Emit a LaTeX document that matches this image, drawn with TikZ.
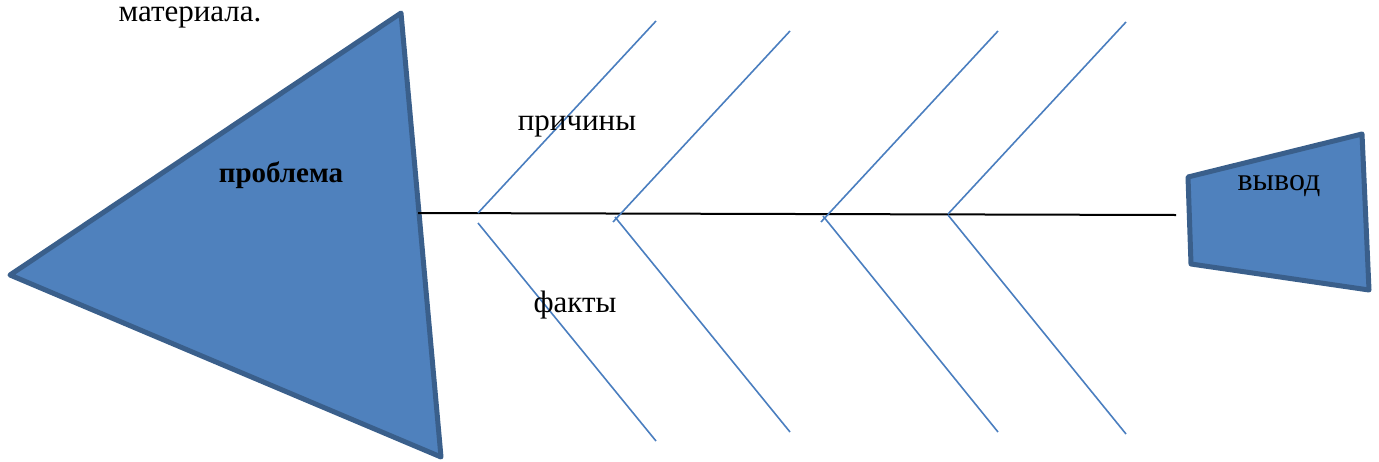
\documentclass[tikz,border=0pt]{standalone}
\usepackage{fontspec}
\setmainfont{Liberation Serif}
\definecolor{shapefill}{HTML}{4F81BD}
\definecolor{shapeline}{HTML}{3A5F8B}
\definecolor{bonecol}{HTML}{4A7EBF}
\tikzset{
  fishpart/.style={fill=shapefill, draw=shapeline, line width=5pt, line join=round},
  bone/.style={draw=bonecol, line width=1.6pt},
  spine/.style={draw=black, line width=2pt},
  lbl/.style={anchor=base, inner sep=0pt, font=\fontsize{31}{36}\selectfont}
}
\begin{document}
\begin{tikzpicture}[x=1pt,y=-1pt]
\useasboundingbox (0,0) rectangle (1379,461);
% head
\draw[fishpart] (401,13) coordinate (h1) -- (10,275) coordinate (h2) -- (441,457) coordinate (h3) -- cycle;
% tail
\draw[fishpart] (1188,177) coordinate (t1) -- (1362,134) coordinate (t2) -- (1369,290) coordinate (t3) -- (1191,264) coordinate (t4) -- cycle;
% spine
\coordinate (s0) at (418,213);
\coordinate (s1) at (1176,215);
\draw[spine] (s0) -- (s1);
% bones
\coordinate (b1a) at (478,213); \coordinate (b1u) at (656,21);
\coordinate (b1b) at (478,223); \coordinate (b1d) at (656,441);
\coordinate (b2a) at (613,222); \coordinate (b2u) at (790,31);
\coordinate (b2b) at (615,217); \coordinate (b2d) at (790,432);
\coordinate (b3a) at (821,222); \coordinate (b3u) at (998,31);
\coordinate (b3b) at (823,216); \coordinate (b3d) at (998,432);
\coordinate (b4a) at (948,214); \coordinate (b4u) at (1126,22);
\coordinate (b4b) at (948,215); \coordinate (b4d) at (1126,434);
\draw[bone] (b1a) -- (b1u); \draw[bone] (b1b) -- (b1d);
\draw[bone] (b2a) -- (b2u); \draw[bone] (b2b) -- (b2d);
\draw[bone] (b3a) -- (b3u); \draw[bone] (b3b) -- (b3d);
\draw[bone] (b4a) -- (b4u); \draw[bone] (b4b) -- (b4d);
% labels
\node[lbl] (mat) at (190,21) {материала.};
\node[lbl, font=\fontsize{29}{34}\selectfont\bfseries] (prob) at (281,182) {проблема};
\node[lbl] (prich) at (577,130) {причины};
\node[lbl] (fakt) at (575,312) {факты};
\node[lbl, font=\fontsize{32}{38}\selectfont] (vyv) at (1279,190) {вывод};
\end{tikzpicture}
\end{document}
